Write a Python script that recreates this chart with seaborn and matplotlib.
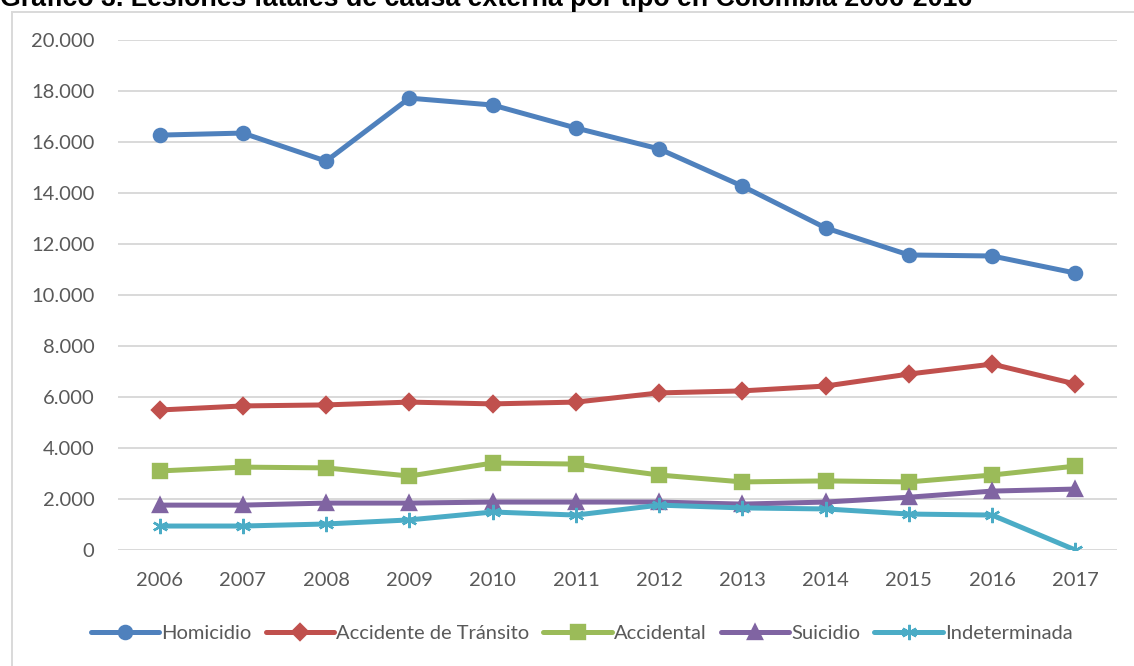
import numpy as np
import pandas as pd
import matplotlib
matplotlib.use('Agg')
import matplotlib.pyplot as plt
import matplotlib.ticker as mticker
from matplotlib.lines import Line2D
import seaborn as sns

# ── data ─────────────────────────────────────────────────────────
years = [2006, 2007, 2008, 2009, 2010, 2011, 2012, 2013, 2014, 2015, 2016, 2017]
homicidio     = [16270, 16350, 15250, 17720, 17450, 16550, 15730, 14270, 12630, 11570, 11530, 10860]
transito      = [5490, 5650, 5690, 5800, 5730, 5800, 6160, 6240, 6430, 6900, 7290, 6510]
accidental    = [3100, 3250, 3220, 2900, 3410, 3370, 2940, 2670, 2710, 2670, 2940, 3290]
suicidio      = [1760, 1760, 1840, 1840, 1880, 1880, 1880, 1800, 1880, 2070, 2310, 2390]
indeterminada = [940, 940, 1020, 1180, 1490, 1370, 1760, 1650, 1610, 1410, 1370, 0]

series_names = ['Homicidio', 'Accidente de Tránsito', 'Accidental', 'Suicidio', 'Indeterminada']
series_vals  = [homicidio, transito, accidental, suicidio, indeterminada]
colors  = ['#4F81BD', '#C0504D', '#9BBB59', '#8064A2', '#4BACC6']
markers = ['o', 'D', 's', '^', (6, 2, 0)]
msizes  = [9.5, 8.5, 9.5, 9.5, 11]

title = 'Gráfico 3. Lesiones fatales de causa externa por tipo en Colombia 2006-2016'

df = pd.DataFrame({'year': years})
for name, vals in zip(series_names, series_vals):
    df[name] = vals
long = df.melt(id_vars='year', var_name='tipo', value_name='valor')

# ── figure ───────────────────────────────────────────────────────
sns.set_style('white')
plt.rcParams['font.family'] = ['Lato', 'DejaVu Sans']

W, H = 1134, 666
fig = plt.figure(figsize=(W / 100, H / 100), dpi=100)
ax = fig.add_axes([118 / W, 1 - 550 / H, (1117 - 118) / W, (550 - 40) / H])

handles = []
for name, c, m, ms in zip(series_names, colors, markers, msizes):
    sub = long[long['tipo'] == name]
    sns.lineplot(data=sub, x='year', y='valor', ax=ax, color=c, linewidth=3.6,
                 marker=m, markersize=ms, markeredgecolor=c, markeredgewidth=1.7,
                 legend=False, zorder=3)
    handles.append(Line2D([0], [0], color=c, linewidth=3.6, marker=m,
                          markersize=ms, markeredgecolor=c, markeredgewidth=1.7))

ax.set_xlim(2005.5, 2017.5)
ax.set_ylim(0, 20000)
ax.set_xticks(years)
ax.set_yticks(np.arange(0, 20001, 2000))
ax.yaxis.set_major_formatter(mticker.FuncFormatter(lambda v, p: f'{int(v):,}'.replace(',', '.')))
ax.grid(axis='y', color='#d9d9d9', linewidth=1.4)
ax.set_axisbelow(True)
for s in ax.spines.values():
    s.set_visible(False)
ax.tick_params(axis='both', length=0, labelsize=14.5, labelcolor='#595959')
ax.tick_params(axis='y', pad=17)
ax.tick_params(axis='x', pad=16)
ax.set_xlabel('')
ax.set_ylabel('')

leg = fig.legend(handles, series_names, loc='center', bbox_to_anchor=(0.513, 1 - 633 / H),
                 ncol=5, frameon=False, fontsize=14.5, handlelength=3.4,
                 handletextpad=0.1, columnspacing=0.7)
for t in leg.get_texts():
    t.set_color('#595959')

# chart border (partly off-canvas, as in the reference)
fig.add_artist(plt.Rectangle((12 / W, -0.05), 1.2, 1 - 12 / H + 0.05,
                             transform=fig.transFigure, fill=False,
                             edgecolor='#d9d9d9', linewidth=1.4))

# title, clipped by the top edge
fig.text(0.0, 1 + 1 / H, title, fontsize=19.3, fontweight='bold', color='black',
         family='Liberation Sans', ha='left', va='center')

fig.savefig('out.png', dpi=100)
